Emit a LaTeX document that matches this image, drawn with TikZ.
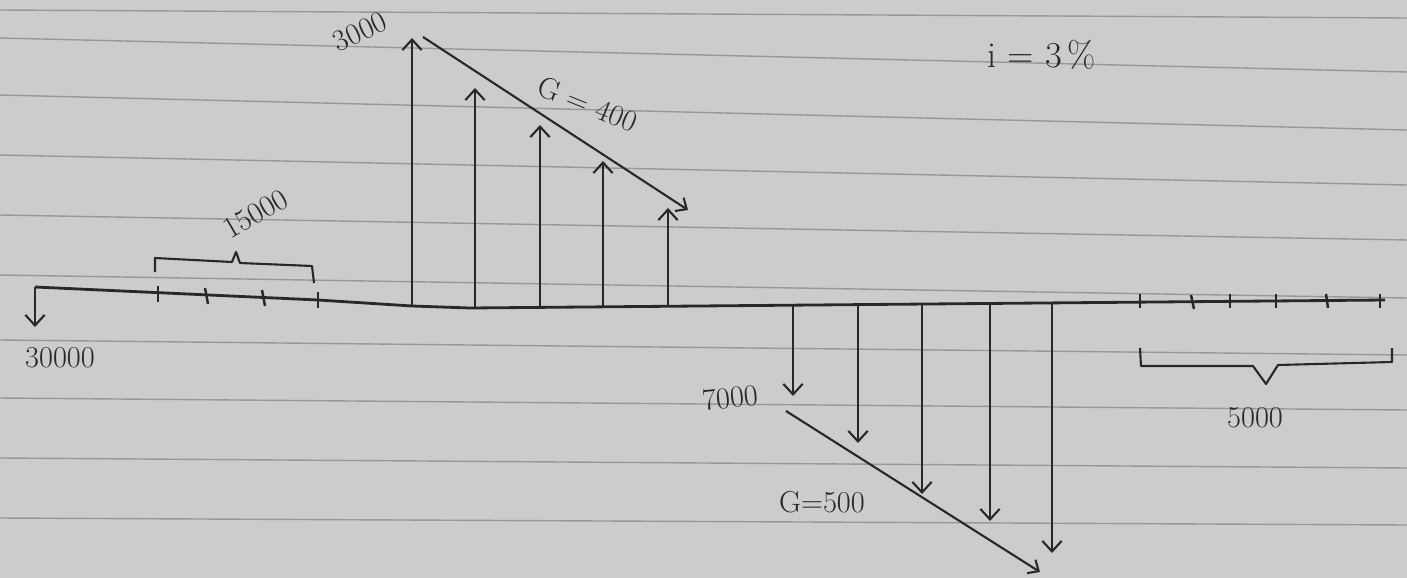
\documentclass[tikz,border=0pt]{standalone}
\usetikzlibrary{arrows.meta}
\definecolor{paper}{RGB}{203,205,202}
\definecolor{rule}{RGB}{150,153,152}
\definecolor{ink}{RGB}{40,40,40}
\tikzset{
  cash/.style={draw=ink, line width=1.2pt, -{Straight Barb[length=6pt,width=11pt,line width=1.2pt]}},
  grad/.style={draw=ink, line width=1.2pt, -{Straight Barb[length=5pt,width=9pt,line width=1.2pt]}},
  tickmark/.style={draw=ink, line width=1.4pt},
  bracket/.style={draw=ink, line width=1.2pt, line join=round},
  lbl/.style={text=ink, font=\LARGE, inner sep=1pt}
}
\begin{document}
\begin{tikzpicture}[x=0.02cm, y=-0.02cm]
\fill[paper] (0,0) rectangle (1407,578);
\useasboundingbox (0,0) rectangle (1407,578);
% ruled paper
\draw[rule, line width=0.8pt] (0,10) -- (1407,18);
\draw[rule, line width=0.8pt] (0,38) -- (1407,72);
\draw[rule, line width=0.8pt] (0,95) -- (1407,130);
\draw[rule, line width=0.8pt] (0,155) -- (1407,185);
\draw[rule, line width=0.8pt] (0,215) -- (1407,240);
\draw[rule, line width=0.8pt] (0,275) -- (1407,298);
\draw[rule, line width=0.8pt] (0,340) -- (1407,355);
\draw[rule, line width=0.8pt] (0,398) -- (1407,410);
\draw[rule, line width=0.8pt] (0,458) -- (1407,468);
\draw[rule, line width=0.8pt] (0,518) -- (1407,525);
% time line
\coordinate (t0) at (35,287); \coordinate (k) at (412,306); \coordinate (tn) at (1385,300);
\draw[ink, line width=1.6pt] (t0) -- (318,300) -- (k) -- (470,308) -- (tn);
% initial cost
\coordinate (c0) at (35,327);
\draw[cash] (t0) -- (c0);
\node[lbl] (cost) at (60,358) {30000};
% annuity 15000
\draw[tickmark] (158,286) -- (158,302); \draw[tickmark] (205,288) -- (208,304);
\draw[tickmark] (262,290) -- (265,306); \draw[tickmark] (318,292) -- (318,308);
\draw[bracket] (155,272) -- (155,258) -- (232,262) -- (236,252) -- (240,263) -- (312,266) -- (314,283);
\node[lbl, rotate=30] (ann1) at (256,214) {15000};
% increasing arm, G = 400
\coordinate (u1b) at (412,306); \coordinate (u1t) at (412,38);
\coordinate (u2b) at (475,308); \coordinate (u2t) at (475,88);
\coordinate (u3b) at (540,308); \coordinate (u3t) at (540,125);
\coordinate (u4b) at (603,307); \coordinate (u4t) at (603,161);
\coordinate (u5b) at (668,307); \coordinate (u5t) at (668,208);
\draw[cash] (u1b) -- (u1t);
\draw[cash] (u2b) -- (u2t);
\draw[cash] (u3b) -- (u3t);
\draw[cash] (u4b) -- (u4t);
\draw[cash] (u5b) -- (u5t);
\coordinate (g1a) at (423,37); \coordinate (g1b) at (688,210);
\draw[grad] (g1a) -- (g1b);
\node[lbl, rotate=25] (top) at (360,32) {3000};
\node[lbl, rotate=-22] (gup) at (588,104) {G = 400};
% decreasing arm, G = 500
\coordinate (d1t) at (793,306); \coordinate (d1b) at (793,396);
\coordinate (d2t) at (858,305); \coordinate (d2b) at (858,443);
\coordinate (d3t) at (922,305); \coordinate (d3b) at (922,494);
\coordinate (d4t) at (990,304); \coordinate (d4b) at (990,521);
\coordinate (d5t) at (1052,303); \coordinate (d5b) at (1052,553);
\draw[cash] (d1t) -- (d1b);
\draw[cash] (d2t) -- (d2b);
\draw[cash] (d3t) -- (d3b);
\draw[cash] (d4t) -- (d4b);
\draw[cash] (d5t) -- (d5b);
\coordinate (g2a) at (786,411); \coordinate (g2b) at (1040,572);
\draw[grad] (g2a) -- (g2b);
\node[lbl, rotate=6] (low) at (730,398) {7000};
\node[lbl] (gdown) at (822,502) {G=500};
% annuity 5000
\draw[tickmark] (1140,294) -- (1140,308); \draw[tickmark] (1191,295) -- (1194,309);
\draw[tickmark] (1230,294) -- (1230,308); \draw[tickmark] (1276,294) -- (1276,308);
\draw[tickmark] (1326,294) -- (1328,308); \draw[tickmark] (1380,294) -- (1380,308);
\draw[bracket] (1140,348) -- (1141,366) -- (1253,366) -- (1266,384) -- (1278,365) -- (1392,362) -- (1392,348);
\node[lbl] (ann2) at (1255,418) {5000};
% interest rate
\node[lbl, font=\huge] (rate) at (1042,55) {i = 3\,\%};
\end{tikzpicture}
\end{document}
